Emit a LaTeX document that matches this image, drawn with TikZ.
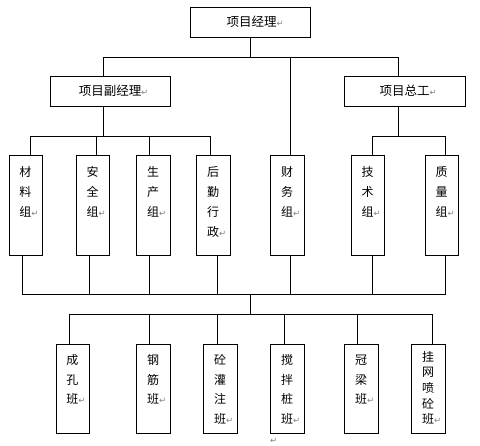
\documentclass[tikz,border=0pt]{standalone}
\usepackage{fontspec}
\setmainfont{Noto Sans CJK SC}
\newfontfamily\arrowfont{DejaVu Sans}
\newcommand{\pmark}{\rlap{\textcolor{gray}{\arrowfont\fontsize{8.5}{8.5}\selectfont ↵}}}
% vertical text: box height, first baseline, line pitch, lines
\newcommand{\vcol}[4]{\parbox[c][#1][t]{12pt}{\fontsize{12}{#3}\selectfont\centering\rule{0pt}{#2}#4\par}}
\tikzset{
  mgr/.style={draw, line width=0.9pt, inner sep=0pt, minimum width=120pt, minimum height=30pt, font=\fontsize{12.5}{14}\selectfont},
  grp/.style={draw, line width=0.9pt, inner sep=0pt, minimum width=34pt, minimum height=100pt},
  team/.style={draw, line width=0.9pt, inner sep=0pt, minimum width=34pt, minimum height=89pt}
}
\begin{document}
\begin{tikzpicture}[x=1pt,y=-1pt,line width=0.9pt]
\useasboundingbox (0,0) rectangle (480,446);
\node (pm) [mgr] at (250,22) {\hspace{3pt}项目经理\pmark};
\node (dpm) [mgr] at (110,91) {项目副经理\pmark};
\node (ce) [mgr, minimum width=121pt] at (404.5,91) {项目总工\pmark};
\node (g1) [grp, minimum width=33pt] at (25.5,205) {\vcol{100pt}{21.6pt}{20pt}{材\\料\\组\pmark}};
\node (g2) [grp, minimum width=33pt] at (92.5,205) {\vcol{100pt}{21.6pt}{20pt}{安\\全\\组\pmark}};
\node (g3) [grp] at (153,205) {\vcol{100pt}{21.6pt}{20pt}{生\\产\\组\pmark}};
\node (g4) [grp] at (213,205) {\vcol{100pt}{21.6pt}{20pt}{后\\勤\\行\\政\pmark}};
\node (g5) [grp] at (287,205) {\vcol{100pt}{21.6pt}{20pt}{财\\务\\组\pmark}};
\node (g6) [grp, minimum width=33pt] at (367.5,205) {\vcol{100pt}{21.6pt}{20pt}{技\\术\\组\pmark}};
\node (g7) [grp, minimum width=33pt] at (441.5,205) {\vcol{100pt}{21.6pt}{20pt}{质\\量\\组\pmark}};
\node (t1) [team, minimum width=33pt] at (72.5,388.5) {\vcol{89pt}{20.6pt}{19.7pt}{成\\孔\\班\pmark}};
\node (t2) [team] at (153,388.5) {\vcol{89pt}{20.6pt}{19.7pt}{钢\\筋\\班\pmark}};
\node (t3) [team] at (220,388.5) {\vcol{89pt}{20.6pt}{19.7pt}{砼\\灌\\注\\班\pmark}};
\node (t4) [team] at (287,388.5) {\vcol{89pt}{20.6pt}{19.7pt}{搅\\拌\\桩\\班\pmark}};
\node (t5) [team] at (361,388.5) {\vcol{89pt}{20.6pt}{19.7pt}{冠\\梁\\班\pmark}};
\node (t6) [team] at (428,388.5) {\vcol{89pt}{17.3pt}{15.6pt}{挂\\网\\喷\\砼\\班\pmark}};
\node (end) [inner sep=0pt] at (270,441) {\pmark};
\coordinate (s0) at (250,57);
\coordinate (s1) at (250,136);
\coordinate (s2) at (250,294);
\coordinate (s3) at (250,314);
\draw (pm) -- (s0);
\draw ([xshift=-7pt]dpm.north) -- ([xshift=-7pt]dpm.north |- s0) -- ([xshift=-6.5pt]ce.north |- s0) -- ([xshift=-6.5pt]ce.north);
\draw ([xshift=3pt]g5.north) -- ([xshift=3pt]g5.north |- s0);
\draw ([xshift=-7pt]dpm.south) -- ([xshift=-7pt]dpm.south |- s1);
\draw ([xshift=4.5pt]g1.north) -- ([xshift=4.5pt]g1.north |- s1) -- ([xshift=-3pt]g4.north |- s1) -- ([xshift=-3pt]g4.north);
\draw ([xshift=3.5pt]g2.north) -- ([xshift=3.5pt]g2.north |- s1);
\draw ([xshift=-4pt]g3.north) -- ([xshift=-4pt]g3.north |- s1);
\draw ([xshift=-6.5pt]ce.south) -- ([xshift=-6.5pt]ce.south |- s1);
\draw ([xshift=4.5pt]g6.north) -- ([xshift=4.5pt]g6.north |- s1) -- ([xshift=3.5pt]g7.north |- s1) -- ([xshift=3.5pt]g7.north);
\draw ([xshift=-3.5pt]g1.south) -- ([xshift=-3.5pt]g1.south |- s2) -- ([xshift=3.5pt]g7.south |- s2) -- ([xshift=3.5pt]g7.south);
\draw ([xshift=-3.5pt]g2.south) -- ([xshift=-3.5pt]g2.south |- s2);
\draw ([xshift=-4pt]g3.south) -- ([xshift=-4pt]g3.south |- s2);
\draw ([xshift=4pt]g4.south) -- ([xshift=4pt]g4.south |- s2);
\draw ([xshift=3pt]g5.south) -- ([xshift=3pt]g5.south |- s2);
\draw ([xshift=4.5pt]g6.south) -- ([xshift=4.5pt]g6.south |- s2);
\draw (s2) -- (s3);
\draw ([xshift=-3.5pt]t1.north) -- ([xshift=-3.5pt]t1.north |- s3) -- ([xshift=4pt]t6.north |- s3) -- ([xshift=4pt]t6.north);
\draw ([xshift=-4pt]t2.north) -- ([xshift=-4pt]t2.north |- s3);
\draw ([xshift=-3pt]t3.north) -- ([xshift=-3pt]t3.north |- s3);
\draw ([xshift=-3pt]t4.north) -- ([xshift=-3pt]t4.north |- s3);
\draw ([xshift=-4pt]t5.north) -- ([xshift=-4pt]t5.north |- s3);
\end{tikzpicture}
\end{document}
